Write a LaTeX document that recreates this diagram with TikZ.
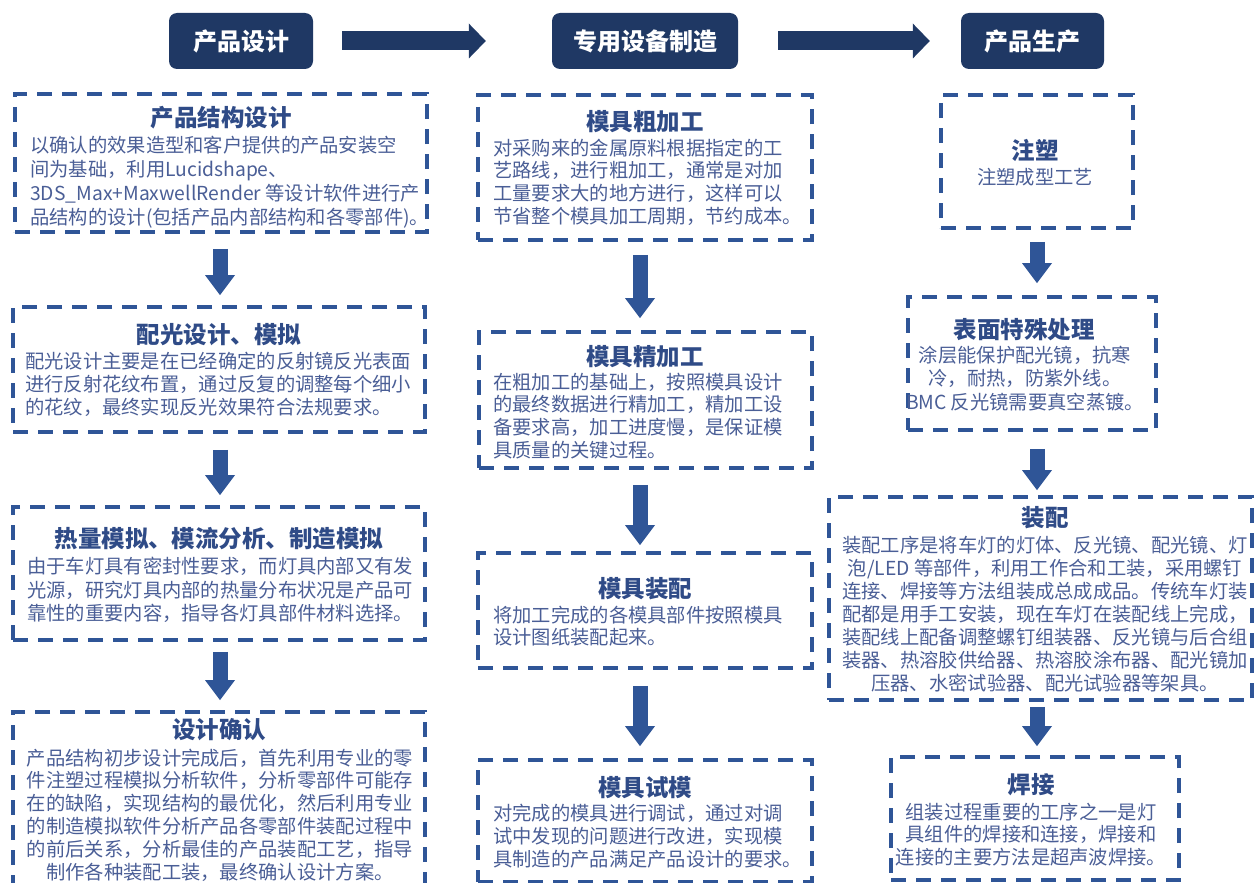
\documentclass[tikz,border=0pt]{standalone}
\usepackage{fontspec}
\setmainfont{Noto Sans CJK SC}
\usetikzlibrary{arrows.meta}
\definecolor{navy}{HTML}{1F3864}
\definecolor{bordc}{HTML}{2F5597}
\definecolor{titlec}{HTML}{2F4B87}
\definecolor{bodyc}{HTML}{4A5E96}
\begin{document}
\begin{tikzpicture}[x=1pt,y=-1pt,
  dbox/.style={draw=bordc, line width=3.8pt, dash pattern=on 15pt off 10pt, inner sep=0pt},
  hdr/.style={fill=navy, rounded corners=8pt, text=white, font=\fontsize{24}{28}\selectfont\bfseries, inner sep=0pt, minimum height=56pt},
  ttl/.style={text=titlec, font=\fontsize{23.5}{28}\selectfont\bfseries, inner sep=0pt},
  bodytxt/.style={text=bodyc, font=\fontsize{19.3}{23.2}\selectfont, inner sep=0pt},
  fatr/.style={draw=navy, line width=19pt, -{Triangle[length=17pt,width=35pt,line width=0pt]}},
  fatd/.style={draw=bordc, line width=15pt, -{Triangle[length=20pt,width=30pt,line width=0pt]}},
]
\useasboundingbox (0,0) rectangle (1254,883);
\clip (0,0) rectangle (1254,883);
\coordinate (cL) at (220,0);
\coordinate (cM) at (640,0);
\coordinate (cR) at (1037,0);

% headers
\node[hdr, minimum width=144pt] (H1) at (241,41) {产品设计};
\node[hdr, minimum width=186pt] (H2) at (645,41) {专用设备制造};
\node[hdr, minimum width=143pt] (H3) at (1032.5,41) {产品生产};
\draw[fatr, shorten <=29pt, shorten >=66pt] (H1) -- (H2);
\draw[fatr, shorten <=40pt, shorten >=31pt] (H2) -- (H3);

% left column
\node[dbox, minimum width=412pt, minimum height=138pt] (L1) at (221,163) {};
\node[ttl] (L1t) at (221,118) {产品结构设计};
\node[bodytxt, align=left, anchor=west, font=\fontsize{19.3}{24}\selectfont] (L1b) at (30,182.5) {以确认的效果造型和客户提供的产品安装空\\间为基础，利用Lucidshape、\\3DS\_Max+MaxwellRender 等设计软件进行产\\品结构的设计(包括产品内部结构和各零部件)。};

\node[dbox, minimum width=412pt, minimum height=125pt] (L2) at (219,369.5) {};
\node[ttl] (L2t) at (219,335) {配光设计、模拟};
\node[bodytxt, align=left, anchor=west] (L2b) at (25,384.5) {配光设计主要是在已经确定的反射镜反光表面\\进行反射花纹布置，通过反复的调整每个细小\\的花纹，最终实现反光效果符合法规要求。};

\node[dbox, minimum width=412pt, minimum height=133pt] (L3) at (219,573.5) {};
\node[ttl] (L3t) at (219,539) {热量模拟、模流分析、制造模拟};
\node[bodytxt, align=left, anchor=west] (L3b) at (27,590) {由于车灯具有密封性要求，而灯具内部又有发\\光源，研究灯具内部的热量分布状况是产品可\\靠性的重要内容，指导各灯具部件材料选择。};

\node[dbox, minimum width=412pt, minimum height=188pt] (L4) at (219,806) {};
\node[ttl] (L4t) at (219,730) {设计确认};
\node[bodytxt, align=center, font=\fontsize{19.3}{22.8}\selectfont] (L4b) at (220,815) {产品结构初步设计完成后，首先利用专业的零\\件注塑过程模拟分析软件，分析零部件可能存\\在的缺陷，实现结构的最优化，然后利用专业\\的制造模拟软件分析产品各零部件装配过程中\\的前后关系，分析最佳的产品装配工艺，指导\\制作各种装配工装，最终确认设计方案。};

\draw[fatd, shorten <=15pt, shorten >=10pt] (L1.south -| cL) -- (L2.north -| cL);
\draw[fatd, shorten <=16pt, shorten >=10pt] (L2.south -| cL) -- (L3.north -| cL);
\draw[fatd, shorten <=10pt, shorten >=10pt] (L3.south -| cL) -- (L4.north -| cL);

% middle column
\node[dbox, minimum width=334pt, minimum height=145pt] (M1) at (645,167.5) {};
\node[ttl] (M1t) at (645,122) {模具粗加工};
\node[bodytxt, align=left, anchor=west, font=\fontsize{19.3}{22.7}\selectfont] (M1b) at (493,182) {对采购来的金属原料根据指定的工\\艺路线，进行粗加工，通常是对加\\工量要求大的地方进行，这样可以\\节省整个模具加工周期，节约成本。};

\node[dbox, minimum width=333pt, minimum height=136pt] (M2) at (645.5,400) {};
\node[ttl] (M2t) at (645,357) {模具精加工};
\node[bodytxt, align=left, anchor=west, font=\fontsize{19.3}{22.7}\selectfont] (M2b) at (493,416) {在粗加工的基础上，按照模具设计\\的最终数据进行精加工，精加工设\\备要求高，加工进度慢，是保证模\\具质量的关键过程。};

\node[dbox, minimum width=334pt, minimum height=115pt] (M3) at (645,610.5) {};
\node[ttl] (M3t) at (645,589) {模具装配};
\node[bodytxt, align=left, anchor=west, font=\fontsize{19.3}{22}\selectfont] (M3b) at (493,626.5) {将加工完成的各模具部件按照模具\\设计图纸装配起来。};

\node[dbox, minimum width=334pt, minimum height=122pt] (M4) at (645,821) {};
\node[ttl] (M4t) at (645,788) {模具试模};
\node[bodytxt, align=left, anchor=west, font=\fontsize{19.3}{22.7}\selectfont] (M4b) at (493,836) {对完成的模具进行调试，通过对调\\试中发现的问题进行改进，实现模\\具制造的产品满足产品设计的要求。};

\draw[fatd, shorten <=13pt, shorten >=12pt] (M1.south -| cM) -- (M2.north -| cM);
\draw[fatd, shorten <=15pt, shorten >=6pt] (M2.south -| cM) -- (M3.north -| cM);
\draw[fatd, shorten <=16pt, shorten >=12pt] (M3.south -| cM) -- (M4.north -| cM);

% right column
\node[dbox, minimum width=192pt, minimum height=133pt] (R1) at (1037,161.5) {};
\node[ttl] (R1t) at (1035,150) {注塑};
\node[bodytxt] (R1b) at (1035,177) {注塑成型工艺};

\node[dbox, minimum width=248pt, minimum height=133pt] (R2) at (1032,363.5) {};
\node[ttl] (R2t) at (1024,330) {表面特殊处理};
\node[bodytxt, align=center, font=\fontsize{19.3}{23.5}\selectfont] (R2b) at (1025,378.5) {涂层能保护配光镜，抗寒\\冷，耐热，防紫外线。\\BMC 反光镜需要真空蒸镀。};

\node[dbox, minimum width=423pt, minimum height=203pt] (R3) at (1040.5,598.5) {};
\node[ttl] (R3t) at (1045,518) {装配};
\node[bodytxt, align=center, font=\fontsize{19.3}{23}\selectfont] (R3b) at (1045,614) {装配工序是将车灯的灯体、反光镜、配光镜、灯\\泡/LED 等部件，利用工作合和工装，采用螺钉\\连接、焊接等方法组装成总成成品。传统车灯装\\配都是用手工安装，现在车灯在装配线上完成，\\装配线上配备调整螺钉组装器、反光镜与后合组\\装器、热溶胶供给器、热溶胶涂布器、配光镜加\\压器、水密试验器、配光试验器等架具。};

\node[dbox, minimum width=288pt, minimum height=123pt] (R4) at (1035,818.5) {};
\node[ttl] (R4t) at (1031,785) {焊接};
\node[bodytxt, align=center, font=\fontsize{19.3}{22.5}\selectfont] (R4b) at (1031,834.5) {组装过程重要的工序之一是灯\\具组件的焊接和连接，焊接和\\连接的主要方法是超声波焊接。};

\draw[fatd, shorten <=12pt, shorten >=12pt] (R1.south -| cR) -- (R2.north -| cR);
\draw[fatd, shorten <=17pt, shorten >=5pt] (R2.south -| cR) -- (R3.north -| cR);
\draw[fatd, shorten <=5pt, shorten >=9pt] (R3.south -| cR) -- (R4.north -| cR);
\end{tikzpicture}
\end{document}
